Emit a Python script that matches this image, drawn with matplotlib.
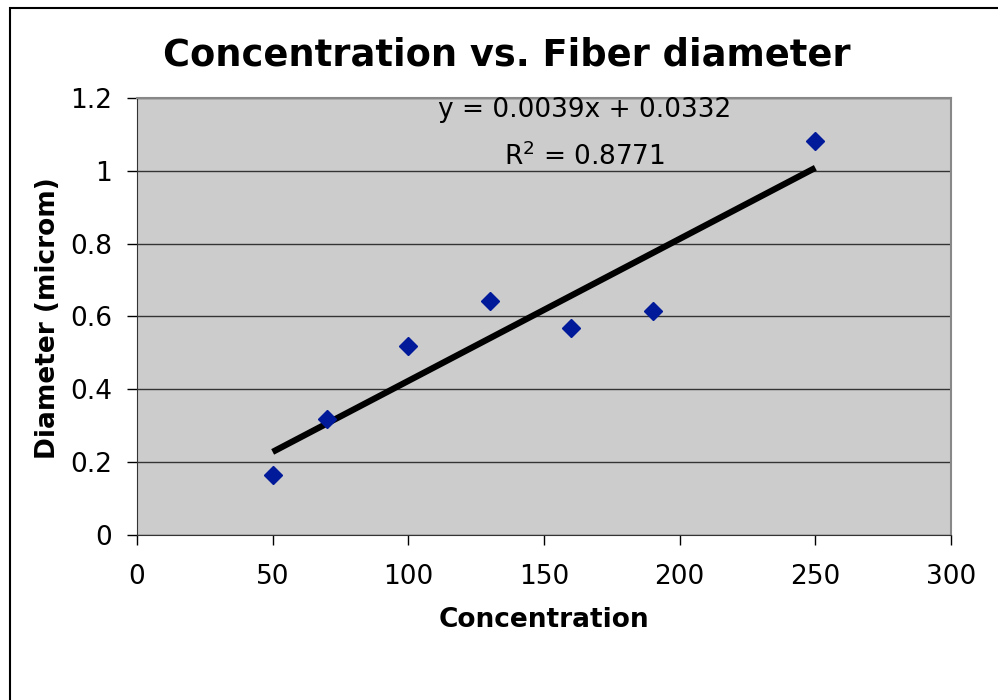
import matplotlib.pyplot as plt
import numpy as np
from matplotlib.patches import Rectangle

# data
concentration = [50, 70, 100, 130, 160, 190, 250]
diameter = [0.165, 0.318, 0.519, 0.643, 0.568, 0.615, 1.082]

# linear trendline as printed on the chart
slope = 0.0039
intercept = 0.0332
r_squared = 0.8771

fig = plt.figure(figsize=(9.98, 7), dpi=100)
fig.patches.append(Rectangle((10 / 998, -0.05), 1.0, 1.0 - 8 / 700 + 0.05,
                             transform=fig.transFigure, fill=False,
                             edgecolor='black', linewidth=1.5))

ax = fig.add_axes([137 / 998, 165 / 700, 814 / 998, 437 / 700])
ax.set_facecolor('#cccccc')

x_fit = np.array([concentration[0], concentration[-1]])
ax.plot(x_fit, slope * x_fit + intercept, color='black', linewidth=4.5,
        solid_capstyle='butt', zorder=2)
ax.plot(concentration, diameter, 'D', color='#001a99', markersize=9, zorder=3)

ax.set_xlim(0, 300)
ax.set_ylim(0, 1.2)
ax.set_xticks(range(0, 301, 50))
ax.set_yticks([0, 0.2, 0.4, 0.6, 0.8, 1, 1.2])
ax.set_yticklabels(['0', '0.2', '0.4', '0.6', '0.8', '1', '1.2'])
ax.yaxis.grid(True, color='#333333', linewidth=1)
ax.set_axisbelow(True)
ax.tick_params(direction='out', length=7, width=1, labelsize=19, colors='black')
ax.tick_params(axis='x', pad=14)
ax.tick_params(axis='y', pad=11)

for side in ['top', 'right']:
    ax.spines[side].set_color('#888888')
    ax.spines[side].set_linewidth(1.5)
for side in ['left', 'bottom']:
    ax.spines[side].set_color('#333333')

ax.set_xlabel('Concentration', fontsize=19, fontweight='bold', va='center')
ax.xaxis.set_label_coords(0.5, -0.1945)
ax.set_ylabel('Diameter (microm)', fontsize=19, fontweight='bold', va='center')
ax.yaxis.set_label_coords(-0.1093, 0.497)

fig.text(507 / 998, 1 - 55 / 700, 'Concentration vs. Fiber diameter',
         ha='center', va='center', fontsize=26.5, fontweight='bold')

ax.text(165, 1.167, 'y = %.4fx + %.4f' % (slope, intercept),
        ha='center', va='center', fontsize=19)
ax.text(165, 1.04, 'R$^2$ = %.4f' % r_squared,
        ha='center', va='center', fontsize=19)

fig.savefig('out.png', dpi=100)
